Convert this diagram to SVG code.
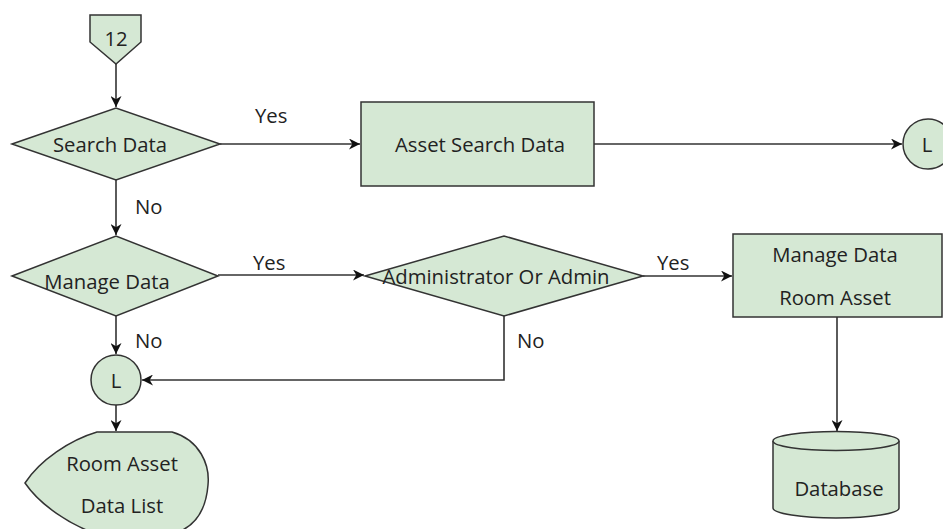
<svg xmlns="http://www.w3.org/2000/svg" width="943" height="529" viewBox="0 0 943 529">
<defs>
<style>
.shape{fill:#d5e8d4;stroke:#333;stroke-width:1.5}
.t{font-family:"Open Sans","Liberation Sans",sans-serif;font-size:20.3px;fill:#222;text-anchor:middle;dominant-baseline:central}
.lbl{font-family:"Open Sans","Liberation Sans",sans-serif;font-size:20.3px;fill:#222;dominant-baseline:central}
.c{fill:none;stroke:#333;stroke-width:1.6}
</style>
<marker id="arr" viewBox="0 0 10 10" refX="10" refY="5" markerWidth="11" markerHeight="11" markerUnits="userSpaceOnUse" orient="auto">
<path d="M0,0 L10,5 L0,10 L3,5 Z" fill="#111"/>
</marker>
</defs>
<rect width="943" height="529" fill="#fff"/>
<g id="connectors">
<path class="c" d="M116,64 L116,107" marker-end="url(#arr)"/>
<path class="c" d="M220,144 L360,144" marker-end="url(#arr)"/>
<path class="c" d="M594,144 L902,144" marker-end="url(#arr)"/>
<path class="c" d="M116,180 L116,235" marker-end="url(#arr)"/>
<path class="c" d="M218,275 L364,275" marker-end="url(#arr)"/>
<path class="c" d="M643,276 L732,276" marker-end="url(#arr)"/>
<path class="c" d="M116,316 L116,354" marker-end="url(#arr)"/>
<path class="c" d="M504,316 L504,380 L142,380" marker-end="url(#arr)"/>
<path class="c" d="M116,405 L116,431" marker-end="url(#arr)"/>
<path class="c" d="M837,317 L837,431" marker-end="url(#arr)"/>
<text class="lbl" x="255" y="115">Yes</text>
<text class="lbl" x="135" y="206">No</text>
<text class="lbl" x="253" y="262">Yes</text>
<text class="lbl" x="657" y="262">Yes</text>
<text class="lbl" x="135" y="340">No</text>
<text class="lbl" x="517" y="340">No</text>
</g>
<g id="offpage12">
<path class="shape" d="M90,15 L141,15 L141,42 L116,64 L90,42 Z"/>
<text class="t" x="116" y="38">12</text>
</g>
<g id="searchData">
<path class="shape" d="M12,144 L116,108 L220,144 L116,180 Z"/>
<text class="t" x="110" y="144">Search Data</text>
</g>
<g id="assetSearchData">
<rect class="shape" x="361" y="102" width="233" height="84"/>
<text class="t" x="480" y="144">Asset Search Data</text>
</g>
<g id="connectorL1">
<circle class="shape" cx="928" cy="144" r="25"/>
<text class="t" x="927" y="144">L</text>
</g>
<g id="manageData">
<path class="shape" d="M12,276 L116,236 L218,276 L116,316 Z"/>
<text class="t" x="107" y="281">Manage Data</text>
</g>
<g id="adminCheck">
<path class="shape" d="M365,276 L504,236 L643,276 L504,316 Z"/>
<text class="t" x="496" y="276">Administrator Or Admin</text>
</g>
<g id="manageRoomAsset">
<rect class="shape" x="733" y="234" width="209" height="83"/>
<text class="t" x="835" y="254">Manage Data</text>
<text class="t" x="835" y="297">Room Asset</text>
</g>
<g id="connectorL2">
<circle class="shape" cx="116" cy="380" r="25"/>
<text class="t" x="116" y="380">L</text>
</g>
<g id="roomAssetList">
<path class="shape" d="M97,432 L172,432 C200,440 210,465 208,485 C206,510 195,528 172,534 L97,534 C70,525 40,505 25,483 C40,460 70,440 97,432 Z"/>
<text class="t" x="122" y="463">Room Asset</text>
<text class="t" x="122" y="505">Data List</text>
</g>
<g id="database">
<path class="shape" d="M773,441 L773,508 A63,10 0 0 0 899,508 L899,441"/>
<ellipse class="shape" cx="836" cy="441" rx="63" ry="9.5"/>
<text class="t" x="839" y="488">Database</text>
</g>
</svg>
